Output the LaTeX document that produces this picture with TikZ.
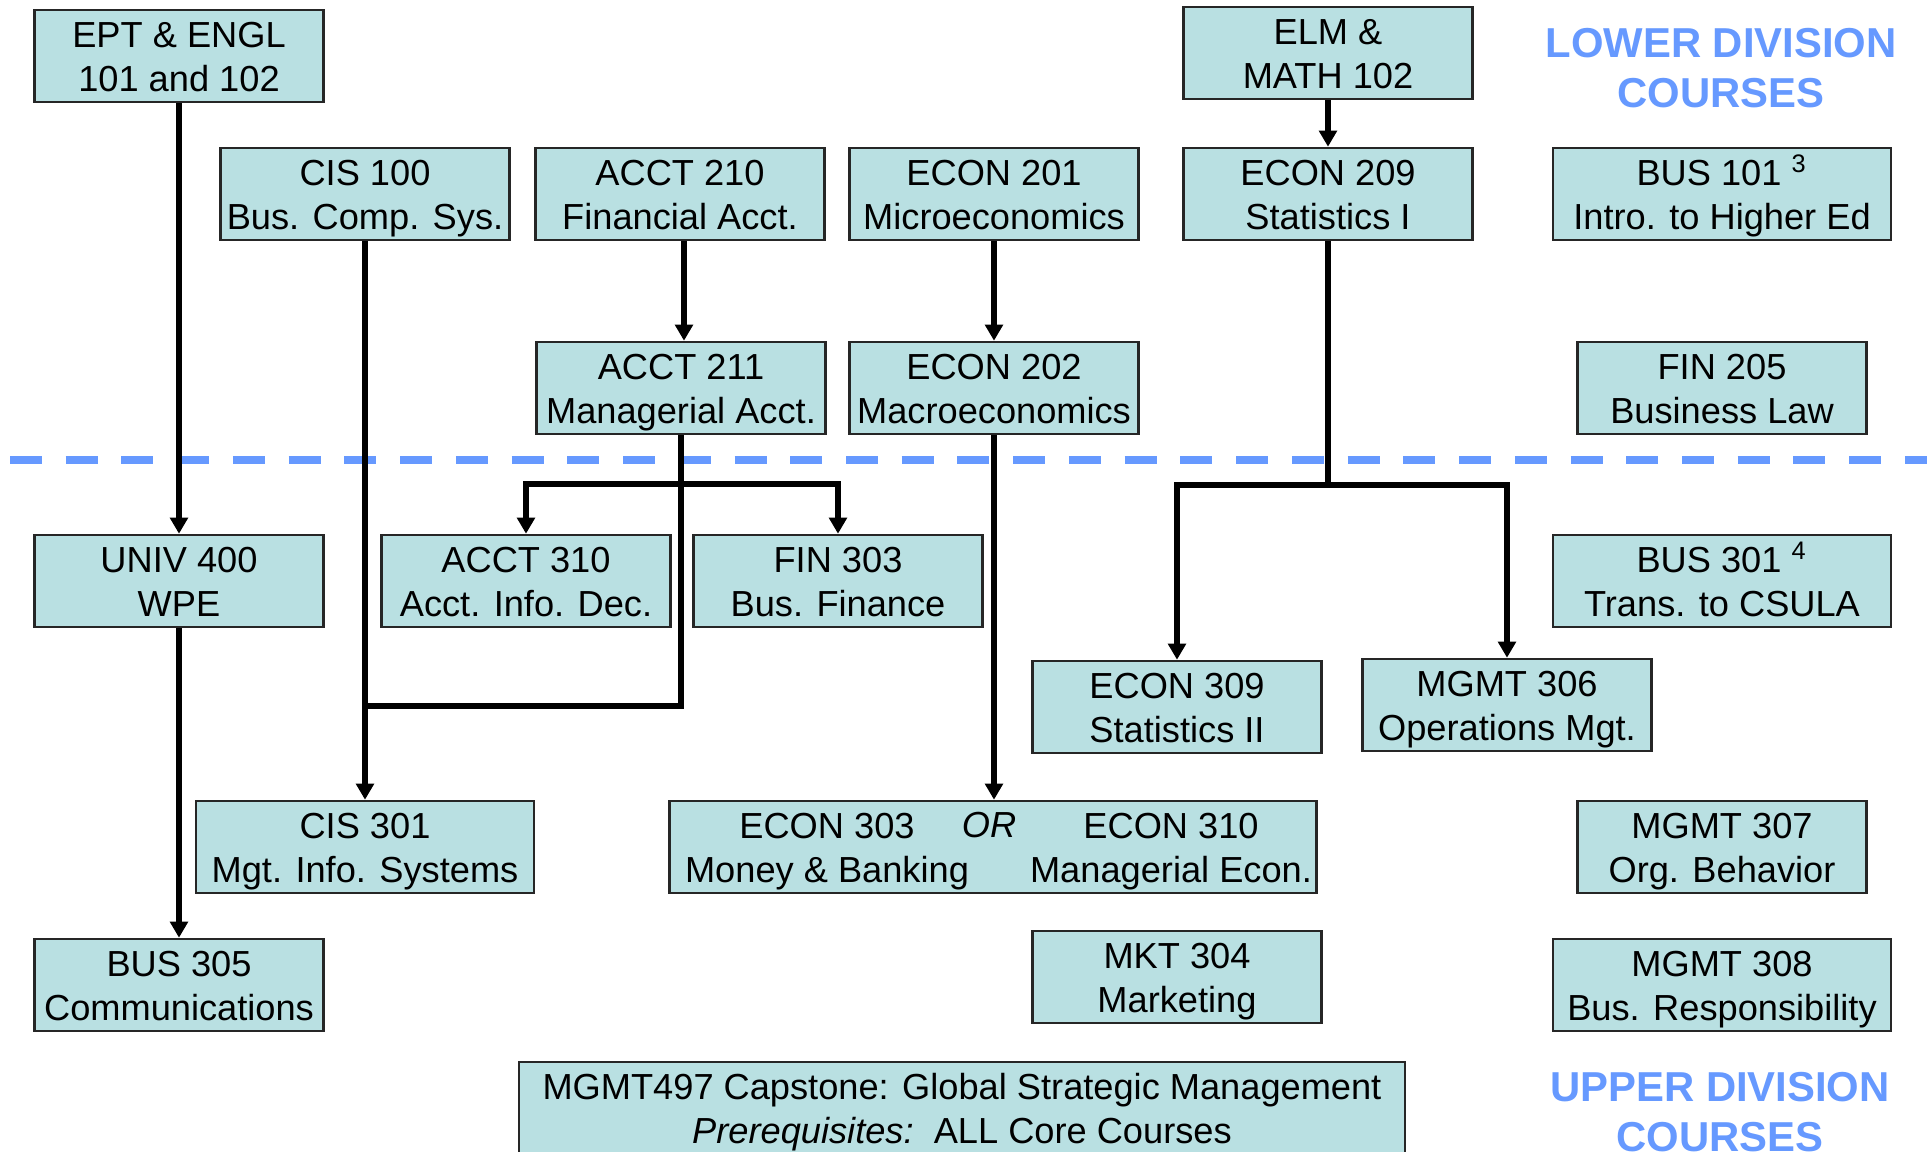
\documentclass[tikz,border=0pt]{standalone}
\usepackage{fontspec}
\setmainfont{Liberation Sans}
\usetikzlibrary{arrows.meta}
\definecolor{boxfill}{RGB}{185,224,226}
\definecolor{divblue}{RGB}{102,153,255}

\begin{document}
\begin{tikzpicture}[x=0.01cm,y=-0.01cm,
    course/.style={draw=black!85,line width=0.7pt,fill=boxfill,
        minimum width=2.89cm,minimum height=0.92cm,inner sep=0pt,
        text height=0.70cm,text depth=0pt,
        align=center,font=\fontsize{10.3}{12.5}\selectfont},
    widecourse/.style={course,minimum width=3.38cm},
    coursetext/.style={inner sep=0pt,text height=0.70cm,text depth=0pt,
        align=center,font=\fontsize{10.3}{12.5}\selectfont},
    link/.style={line width=1.6pt},
    arr/.style={link,-{Triangle[width=5pt,length=4.6pt]}},
    divtitle/.style={text=divblue,align=center,
        font=\fontsize{11.9}{14.2}\selectfont\bfseries}]
    \useasboundingbox (0,0) rectangle (1927,1152);

    % 绘制分隔虚线
    \draw[divblue,line width=2.3pt,dash pattern=on 0.32cm off 0.237cm] (10,460) -- (1927,460);

    % 绘制标题
    \node[divtitle] (lowertitle) at (1721,68) {LOWER DIVISION\\COURSES};
    \node[divtitle] (uppertitle) at (1720,1112) {UPPER DIVISION\\COURSES};

    % 绘制低年级课程
    \node[course] (ept) at (179,56) {EPT \& ENGL\\101 and 102};
    \node[course] (cis100) at (365,194) {CIS 100\\Bus. Comp. Sys.};
    \node[course] (acct210) at (680,194) {ACCT 210\\Financial Acct.};
    \node[course] (econ201) at (994,194) {ECON 201\\Microeconomics};
    \node[course] (elm) at (1328,53) {ELM \&\\MATH 102};
    \node[course] (econ209) at (1328,194) {ECON 209\\Statistics I};
    \node[widecourse] (bus101) at (1722,194) {BUS 101 \textsuperscript{3}\\Intro. to Higher Ed};
    \node[course] (acct211) at (681,388) {ACCT 211\\Managerial Acct.};
    \node[course] (econ202) at (994,388) {ECON 202\\Macroeconomics};
    \node[course] (fin205) at (1722,388) {FIN 205\\Business Law};

    % 绘制高年级课程
    \node[course] (univ) at (179,581) {UNIV 400\\WPE};
    \node[course] (acct310) at (526,581) {ACCT 310\\Acct. Info. Dec.};
    \node[course] (fin303) at (838,581) {FIN 303\\Bus. Finance};
    \node[widecourse] (bus301) at (1722,581) {BUS 301 \textsuperscript{4}\\Trans. to CSULA};
    \node[course] (econ309) at (1177,707) {ECON 309\\Statistics II};
    \node[course] (mgmt306) at (1507,705) {MGMT 306\\Operations Mgt.};
    \node[widecourse] (cis301) at (365,847) {CIS 301\\Mgt. Info. Systems};
    \node[course,minimum width=6.47cm] (econor) at (993,847) {};
    \node[coursetext] (econ303) at (827,847) {ECON 303\\Money \& Banking};
    \node[coursetext] (econ310) at (1171,847) {ECON 310\\Managerial Econ.};
    \node[anchor=base,inner sep=0pt,font=\fontsize{10.3}{12.5}\selectfont] (ortext) at (989,837) {\textit{OR}};
    \node[course] (mgmt307) at (1722,847) {MGMT 307\\Org. Behavior};
    \node[course] (mkt304) at (1177,977) {MKT 304\\Marketing};
    \node[course] (bus305) at (179,985) {BUS 305\\Communications};
    \node[widecourse] (mgmt308) at (1722,985) {MGMT 308\\Bus. Responsibility};
    \node[course,minimum width=8.85cm] (mgmt497) at (962,1108)
        {MGMT497 Capstone: Global Strategic Management\\\textit{Prerequisites:}\ \ ALL Core Courses};

    % 绘制先修关系
    \draw[arr] (ept.south) -- (univ.north);
    \draw[arr] (univ.south) -- (bus305.north);
    \draw[arr] (cis100.south) -- (cis301.north);
    \draw[arr] ([xshift=0.04cm]acct210.south) -- ([xshift=0.04cm]acct210.south |- acct211.north);

    \coordinate (acctsplit) at (acct211.south |- 0,484);
    \coordinate (cisjoin) at (cis100.south |- 0,706);
    \draw[link] (acct211.south) |- (cisjoin);
    \draw[arr] (acctsplit) -| (acct310.north);
    \draw[arr] (acctsplit) -| (fin303.north);

    \draw[arr] (econ201.south) -- (econ202.north);
    \draw[arr] (econ202.south) -- (econ202.south |- econor.north);

    \draw[arr] (elm.south) -- (econ209.north);
    \coordinate (statsplit) at (econ209.south |- 0,485);
    \draw[link] (econ209.south) -- (statsplit);
    \draw[arr] (statsplit) -| (econ309.north);
    \draw[arr] (statsplit) -| (mgmt306.north);
\end{tikzpicture}
\end{document}
